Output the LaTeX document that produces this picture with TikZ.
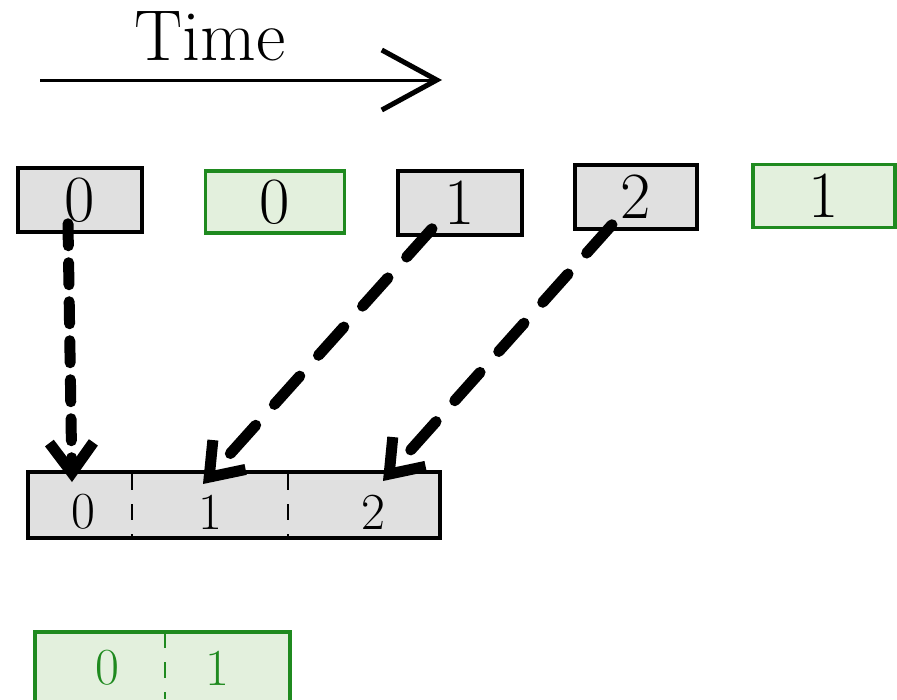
\documentclass[tikz,border=0pt]{standalone}
\usetikzlibrary{arrows.meta}

\definecolor{cellgray}{HTML}{E0E0E0}
\definecolor{cellgreen}{HTML}{E3F0DD}
\definecolor{edgegreen}{HTML}{1F8A1F}

\tikzset{
  cell/.style={draw=black, fill=cellgray, line width=3.5pt, minimum width=124pt, minimum height=64pt,
    inner sep=0pt, font=\fontsize{66}{68}\selectfont},
  gcell/.style={cell, draw=edgegreen, fill=cellgreen},
  digit/.style={font=\fontsize{52}{54}\selectfont},
  move/.style={line width=11pt, line cap=round, dash pattern=on 38pt off 28pt,
    -{Straight Barb[length=30pt, width=44pt, line width=11pt]}},
  divider/.style={line width=2pt, dash pattern=on 16pt off 14pt},
}

\begin{document}
\begin{tikzpicture}[x=1pt, y=-1pt]
  \useasboundingbox (0,0) rectangle (897,699);
  \clip (0,0) rectangle (897,699);

  % time axis
  \coordinate (t0) at (40,80);
  \coordinate (t1) at (442,80);
  \node[font=\fontsize{72}{74}\selectfont] (time) at (210,36) {Time};
  \draw[line width=3pt, -{Straight Barb[length=55pt, width=60pt, line width=5pt]}] (t0) -- (t1);

  % incoming items
  \node[cell] (a0) at (80,200) {0};
  \node[gcell, minimum width=139pt, minimum height=62pt] (b0) at (275,202) {0};
  \node[cell] (a1) at (460,203) {1};
  \node[cell, minimum width=122pt] (a2) at (636,197) {2};
  \node[gcell, minimum width=142pt, minimum height=63pt] (b1) at (824,196) {1};

  % collected gray batch
  \node[cell, minimum width=412pt, minimum height=66pt] (buf) at (234,505) {};
  \node[digit] (s0) at (83,512) {0};
  \node[digit] (s1) at (210,512) {1};
  \node[digit] (s2) at (373,512) {2};
  \draw[divider] (132,474) -- (132,536);
  \draw[divider] (288,474) -- (288,536);

  % collected green batch
  \node[gcell, minimum width=255pt, minimum height=100pt, anchor=north west] (gbuf) at (33,630) {};
  \node[digit, text=edgegreen] (g0) at (107,668) {0};
  \node[digit, text=edgegreen] (g1) at (217,668) {1};
  \draw[divider, draw=edgegreen] (165,632) -- (165,699);

  % arrows into the batch
  \coordinate (p0) at (72,482);
  \coordinate (p1) at (203,484);
  \coordinate (p2) at (383,481);
  \draw[move, dash pattern=on 22pt off 17pt] ([xshift=-12pt, yshift=10pt]a0.south) -- (p0);
  \draw[move] ([xshift=-28pt, yshift=8pt]a1.south) -- (p1);
  \draw[move] ([xshift=-24pt, yshift=6pt]a2.south) -- (p2);
\end{tikzpicture}
\end{document}
